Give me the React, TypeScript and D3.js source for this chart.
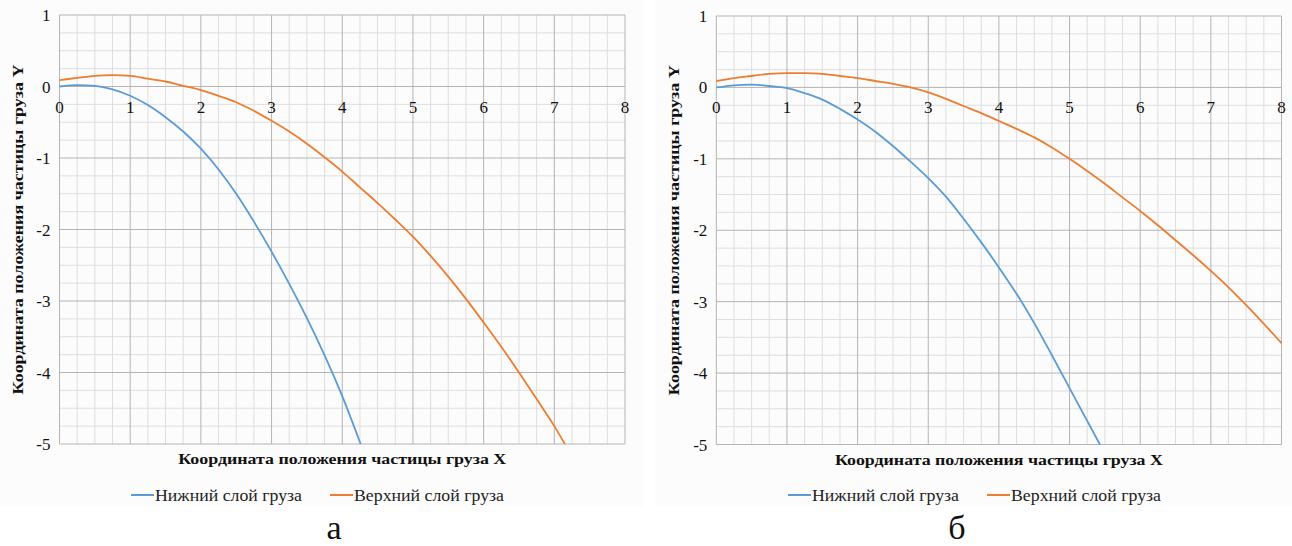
import React from "react";
import * as d3 from "d3";

type Pt = [number, number];

// ---- data ----
const lowerA: Pt[] = [
  [0, 0], [0.25, 0.02], [0.5, 0.01], [0.75, -0.04], [1, -0.13], [1.25, -0.26], [1.5, -0.43],
  [1.75, -0.63], [2, -0.87], [2.25, -1.16], [2.5, -1.5], [2.75, -1.89], [3, -2.31],
  [3.25, -2.76], [3.5, -3.24], [3.75, -3.76], [4, -4.33], [4.26, -5.0],
];
const upperA: Pt[] = [
  [0, 0.09], [0.25, 0.12], [0.5, 0.15], [0.75, 0.16], [1, 0.15], [1.25, 0.11], [1.5, 0.07],
  [1.75, 0.01], [2, -0.05], [2.25, -0.13], [2.5, -0.22], [2.75, -0.34], [3, -0.48],
  [3.25, -0.63], [3.5, -0.8], [3.75, -0.99], [4, -1.19], [4.25, -1.41], [4.5, -1.63],
  [4.75, -1.86], [5, -2.1], [5.25, -2.37], [5.5, -2.66], [5.75, -2.97], [6, -3.3],
  [6.25, -3.64], [6.5, -4.0], [6.75, -4.37], [7, -4.75], [7.15, -5.0],
];
const lowerB: Pt[] = [
  [0, 0], [0.25, 0.03], [0.5, 0.04], [0.75, 0.02], [1, -0.01], [1.25, -0.08], [1.5, -0.17],
  [1.75, -0.3], [2, -0.45], [2.25, -0.62], [2.5, -0.82], [2.75, -1.04], [3, -1.27],
  [3.25, -1.53], [3.5, -1.84], [3.75, -2.17], [4, -2.52], [4.25, -2.89], [4.5, -3.3],
  [4.75, -3.75], [5, -4.21], [5.25, -4.67], [5.43, -5.0],
];
const upperB: Pt[] = [
  [0, 0.09], [0.25, 0.13], [0.5, 0.16], [0.75, 0.19], [1, 0.2], [1.25, 0.2], [1.5, 0.19],
  [1.75, 0.16], [2, 0.13], [2.25, 0.09], [2.5, 0.05], [2.75, 0.0], [3, -0.07],
  [3.25, -0.16], [3.5, -0.26], [3.75, -0.36], [4, -0.47], [4.25, -0.58], [4.5, -0.7],
  [4.75, -0.84], [5, -1.0], [5.25, -1.17], [5.5, -1.35], [5.75, -1.54], [6, -1.73],
  [6.25, -1.93], [6.5, -2.14], [6.75, -2.35], [7, -2.57], [7.25, -2.8], [7.5, -3.05],
  [7.75, -3.31], [8, -3.58],
];

const xTicks = [0, 1, 2, 3, 4, 5, 6, 7, 8];
const yTicks = [1, 0, -1, -2, -3, -4, -5];
const seriesNames = ["Нижний слой груза", "Верхний слой груза"];
const xTitle = "Координата положения частицы груза X";
const yTitle = "Координата положения частицы груза Y";
const captions = ["а", "б"];

const BLUE = "#5b9bd5";
const ORANGE = "#ed7d31";
const FONT = "Liberation Serif";

interface ChartProps {
  left: number;
  right: number;
  top: number;
  bottom: number;
  lower: Pt[];
  upper: Pt[];
  yTitleX: number;
  legend: { l1: number; l2: number };
  caption: string;
  captionX: number;
  bgX: number;
  bgW: number;
}

function Chart(p: ChartProps) {
  const x = d3.scaleLinear().domain([0, 8]).range([p.left, p.right]);
  const y = d3.scaleLinear().domain([-5, 1]).range([p.bottom, p.top]);
  const line = d3
    .line<Pt>()
    .x((d) => x(d[0]))
    .y((d) => y(d[1]))
    .curve(d3.curveMonotoneX);

  const minorX = d3.range(0, 8.001, 0.25).filter((v) => Math.abs(v - Math.round(v)) > 1e-6);
  const minorY = d3.range(-5, 1.001, 0.25).filter((v) => Math.abs(v - Math.round(v)) > 1e-6);
  const cx = (p.left + p.right) / 2;
  const cy = (p.top + p.bottom) / 2;

  return (
    <g fontFamily={FONT}>
      <rect x={p.bgX} y={0} width={p.bgW} height={506} fill="#fcfcfc" />
      {minorX.map((v) => (
        <line key={"mx" + v} x1={x(v)} x2={x(v)} y1={y(1)} y2={y(-5)} stroke="#dedede" strokeWidth={1} />
      ))}
      {minorY.map((v) => (
        <line key={"my" + v} y1={y(v)} y2={y(v)} x1={x(0)} x2={x(8)} stroke="#dedede" strokeWidth={1} />
      ))}
      {xTicks.map((v) => (
        <line key={"Mx" + v} x1={x(v)} x2={x(v)} y1={y(1)} y2={y(-5)} stroke="#b4b4b4" strokeWidth={1} />
      ))}
      {yTicks.map((v) => (
        <line key={"My" + v} y1={y(v)} y2={y(v)} x1={x(0)} x2={x(8)} stroke="#b4b4b4" strokeWidth={1} />
      ))}
      <path d={line(p.lower) || ""} fill="none" stroke={BLUE} strokeWidth={1.8} />
      <path d={line(p.upper) || ""} fill="none" stroke={ORANGE} strokeWidth={1.8} />
      {xTicks.map((v) => (
        <text key={"tx" + v} x={x(v)} y={y(0) + 26} textAnchor="middle" fontSize={17} fontFamily={FONT} fill="#111">
          {v}
        </text>
      ))}
      {yTicks.map((v) => (
        <text key={"ty" + v} x={p.left - 9} y={y(v) + 6} textAnchor="end" fontSize={17} fontFamily={FONT} fill="#111">
          {v}
        </text>
      ))}
      <text
        x={cx - 164}
        y={p.bottom + 20}
        fontSize={15.5}
        fontWeight="bold"
        fontFamily={FONT}
        fill="#111"
        textLength={328}
        lengthAdjust="spacingAndGlyphs"
      >
        {xTitle}
      </text>
      <text
        transform={`translate(${p.yTitleX},${cy + 165}) rotate(-90)`}
        fontSize={15.5}
        fontWeight="bold"
        fontFamily={FONT}
        fill="#111"
        textLength={330}
        lengthAdjust="spacingAndGlyphs"
      >
        {yTitle}
      </text>
      <line x1={p.legend.l1} x2={p.legend.l1 + 23} y1={495} y2={495} stroke={BLUE} strokeWidth={2} />
      <text
        x={p.legend.l1 + 24}
        y={501}
        fontSize={16.5}
        fontFamily={FONT}
        fill="#222"
        textLength={147}
        lengthAdjust="spacingAndGlyphs"
      >
        {seriesNames[0]}
      </text>
      <line x1={p.legend.l2} x2={p.legend.l2 + 23} y1={495} y2={495} stroke={ORANGE} strokeWidth={2} />
      <text
        x={p.legend.l2 + 24}
        y={501}
        fontSize={16.5}
        fontFamily={FONT}
        fill="#222"
        textLength={150}
        lengthAdjust="spacingAndGlyphs"
      >
        {seriesNames[1]}
      </text>
      <text x={p.captionX} y={539} textAnchor="middle" fontSize={34} fontFamily={FONT} fill="#111">
        {p.caption}
      </text>
    </g>
  );
}

export default function App() {
  return (
    <svg width={1292} height={546} style={{ position: "absolute", left: 0, top: 0, background: "#fff" }}>
      <Chart
        left={59.5}
        right={625}
        top={15}
        bottom={444}
        lower={lowerA}
        upper={upperA}
        yTitleX={23}
        legend={{ l1: 131, l2: 330 }}
        caption={captions[0]}
        captionX={334}
        bgX={0}
        bgW={643}
      />
      <Chart
        left={716.3}
        right={1281.5}
        top={16}
        bottom={444.5}
        lower={lowerB}
        upper={upperB}
        yTitleX={679}
        legend={{ l1: 788, l2: 987 }}
        caption={captions[1]}
        captionX={957}
        bgX={655}
        bgW={637}
      />
    </svg>
  );
}
